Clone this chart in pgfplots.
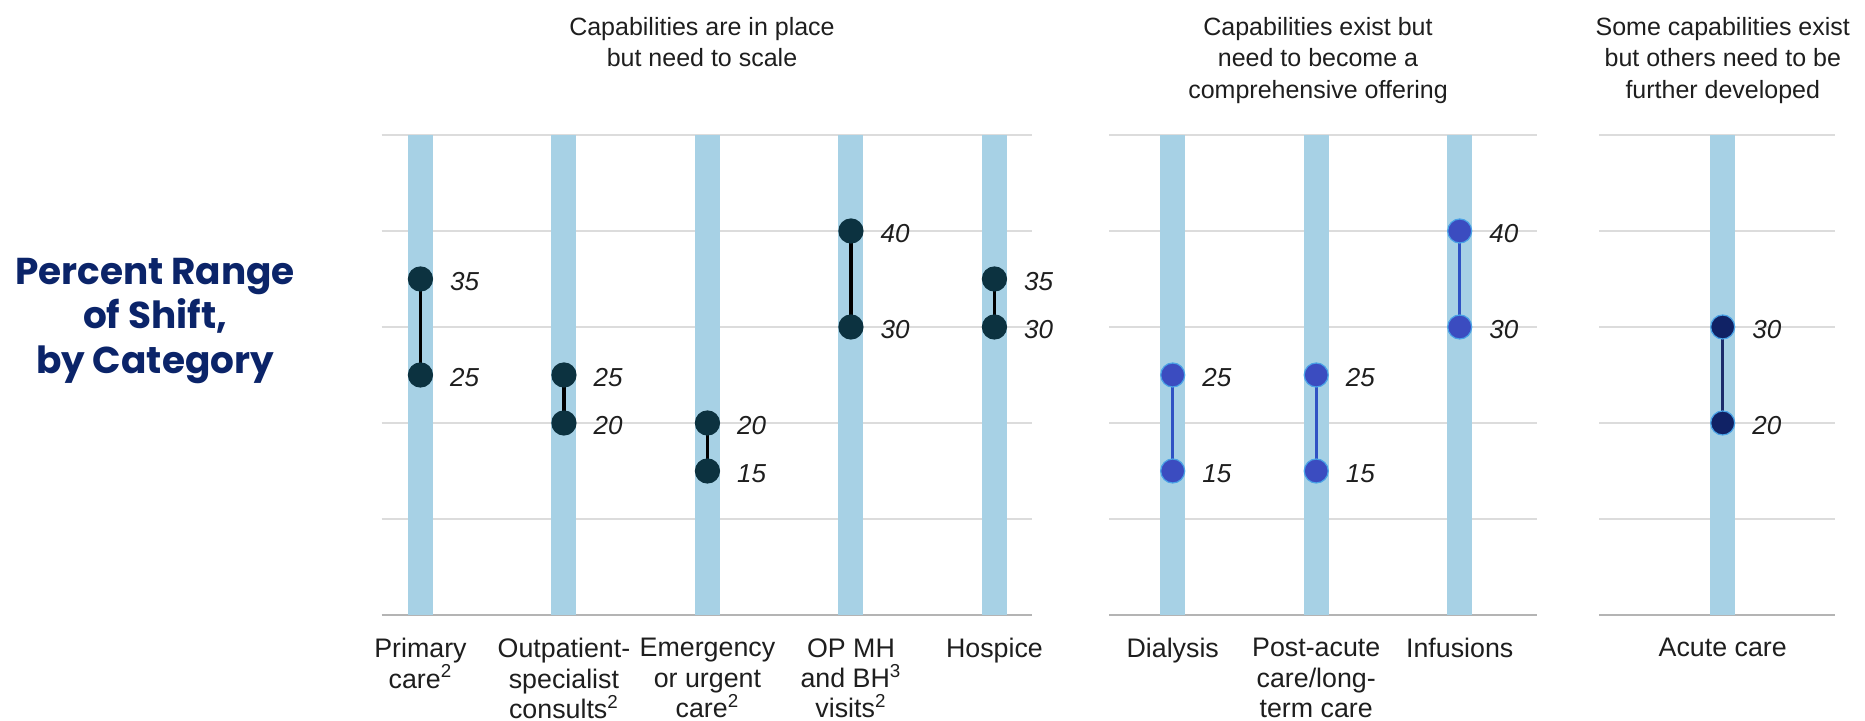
\documentclass[border=0pt]{standalone}
\usepackage{fontspec}
\setmainfont{Liberation Sans}
\newfontfamily\titlefont{Poppins}
\usepackage{pgfplots}
\pgfplotsset{compat=1.18}

\definecolor{barblue}{HTML}{A7D1E5}
\definecolor{gridgray}{HTML}{DCDCDC}
\definecolor{axisgray}{HTML}{B4B4B4}
\definecolor{txt}{HTML}{1E1E1E}
\definecolor{navy}{HTML}{0B2469}
\definecolor{dotA}{HTML}{0C3240}
\definecolor{dotB}{HTML}{3B4CC0}
\definecolor{lineB}{HTML}{2F52C4}
\definecolor{dotC}{HTML}{102265}
\definecolor{lineC}{HTML}{1C2C6C}
\definecolor{ringblue}{HTML}{4AA2E6}

\newcommand\vallabel{\fontsize{13}{13}\selectfont\itshape}
\newcommand\ticklab{\fontsize{13.4}{15.2}\selectfont}
\newcommand\grouptitle{\fontsize{12.5}{15.8}\selectfont}

\pgfplotsset{
  panel/.style={
    scale only axis, x=71.75pt, y=4.8pt,
    ymin=0, ymax=50, ytick={10,20,30,40,50}, yticklabels={},
    ymajorgrids, grid style={draw=gridgray, line width=0.8pt},
    axis lines*=left, y axis line style={draw=none},
    x axis line style={draw=axisgray, line width=1pt},
    major tick length=0pt, xtick style={draw=none}, ytick style={draw=none},
    xticklabel style={align=center, anchor=north, inner sep=0pt,
      yshift=-11.5pt, font=\ticklab, text=txt},
    clip=false, anchor=south west,
    /pgf/number format/assume math mode=true,
  },
  bars/.style={ycomb, draw=barblue, line width=12.5pt, mark=none},
  rng/.style n args={3}{
    draw=#1, line width=#2, mark=*, mark size=6pt,
    mark options={fill=#3, draw=#3, line width=0.6pt},
    nodes near coords, nodes near coords align=horizontal,
    every node near coord/.append style={anchor=west, inner sep=0pt,
      xshift=14.5pt, yshift=-1.5pt, font=\vallabel, text=txt},
  },
  rngA/.style={rng={black}{1.9pt}{dotA}},
  rngB/.style={rng={lineB}{1.5pt}{dotB}, mark options={fill=dotB, draw=ringblue, line width=0.6pt}},
  rngC/.style={rng={lineC}{1.5pt}{dotC}, mark options={fill=dotC, draw=ringblue, line width=0.6pt}},
}

\begin{document}
\begin{tikzpicture}
\path[use as bounding box] (0pt,-53pt) rectangle (932.5pt,307.5pt);

% left heading
\node[align=center, font=\titlefont\bfseries\fontsize{18.7}{22.3}\selectfont, text=navy]
  at (77.5pt,147pt) {Percent Range\\of Shift,\\by Category};

% group titles
\node[align=center, anchor=north, font=\grouptitle, text=txt] at (351pt,302.5pt)
  {Capabilities are in place\\but need to scale};
\node[align=center, anchor=north, font=\grouptitle, text=txt] at (659pt,302.5pt)
  {Capabilities exist but\\need to become a\\comprehensive offering};
\node[align=center, anchor=north, font=\grouptitle, text=txt] at (861.4pt,302.5pt)
  {Some capabilities exist\\but others need to be\\further developed};

% panel 1
\begin{axis}[panel, at={(190.85pt,0pt)}, xmin=-0.27, xmax=4.26,
  xtick={0,1,2,3,4},
  xticklabels={{Primary\\care\textsuperscript{2}},
    {Outpatient-\\specialist\\consults\textsuperscript{2}},
    {Emergency\\or urgent\\care\textsuperscript{2}},
    {OP MH\\and BH\textsuperscript{3}\\visits\textsuperscript{2}},
    {Hospice}}]
\addplot[bars] coordinates {(0,50) (1,50) (2,50) (3,50) (4,50)};
\addplot[rngA] coordinates {(0,25) (0,35)};
\addplot[rngA] coordinates {(1,20) (1,25)};
\addplot[rngA] coordinates {(2,15) (2,20)};
\addplot[rngA] coordinates {(3,30) (3,40)};
\addplot[rngA] coordinates {(4,30) (4,35)};
\end{axis}

% panel 2
\begin{axis}[panel, at={(554.5pt,0pt)}, xmin=-0.444, xmax=2.54,
  xtick={0,1,2},
  xticklabels={{Dialysis}, {Post-acute\\care/long-\\term care}, {Infusions}}]
\addplot[bars] coordinates {(0,50) (1,50) (2,50)};
\addplot[rngB] coordinates {(0,15) (0,25)};
\addplot[rngB] coordinates {(1,15) (1,25)};
\addplot[rngB] coordinates {(2,30) (2,40)};
\end{axis}

% panel 3
\begin{axis}[panel, at={(799.5pt,0pt)}, xmin=-0.862, xmax=0.78,
  xtick={0}, xticklabels={{Acute care}}]
\addplot[bars] coordinates {(0,50)};
\addplot[rngC] coordinates {(0,20) (0,30)};
\end{axis}
\end{tikzpicture}
\end{document}
